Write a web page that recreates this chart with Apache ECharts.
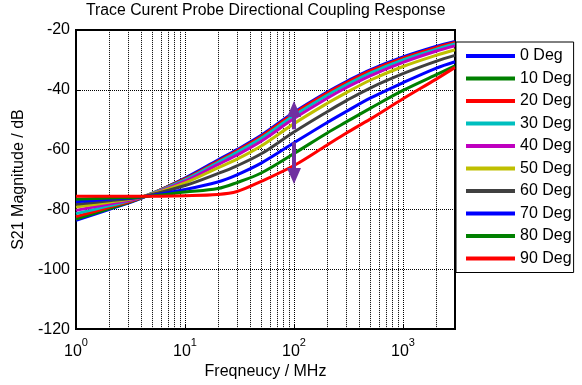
<!DOCTYPE html>
<html>
<head>
<meta charset="utf-8">
<script src="https://cdn.jsdelivr.net/npm/echarts@6/dist/echarts.min.js"></script>
<style>
html, body { margin: 0; padding: 0; background: #fff; }
#main { width: 582px; height: 385px; }
</style>
</head>
<body>
<div id="main"></div>
<script>
// frequency points (MHz)
var freqs = [1, 2, 4, 10, 20, 30, 50, 100, 200, 300, 500, 1000, 2000, 3000];

var names = ['0 Deg', '10 Deg', '20 Deg', '30 Deg', '40 Deg', '50 Deg', '60 Deg', '70 Deg', '80 Deg', '90 Deg'];
var colors = ['#0000ff', '#008000', '#ff0000', '#00bfbf', '#bf00bf', '#bfbf00', '#404040', '#0000ff', '#008000', '#ff0000'];

// S21 (dB) per angle
var deg0  = [-83.6, -80.0, -76.2, -69.5, -63.5, -60.0, -55.2, -47.5, -40.8, -37.3, -33.3, -29.0, -25.5, -23.8];
var deg10 = [-83.2, -79.8, -76.1, -69.8, -64.0, -60.5, -55.7, -48.0, -41.3, -37.8, -33.8, -29.5, -26.0, -24.3];
var deg20 = [-82.4, -79.3, -76.0, -69.8, -63.9, -60.4, -55.6, -47.9, -41.2, -37.7, -33.7, -29.4, -25.9, -24.2];
var deg30 = [-81.4, -78.8, -75.9, -70.1, -64.3, -60.9, -56.2, -48.6, -41.9, -38.4, -34.4, -30.0, -26.5, -24.7];
var deg40 = [-80.3, -78.2, -75.9, -70.5, -65.0, -61.8, -57.2, -49.6, -42.9, -39.3, -35.3, -30.8, -27.1, -25.3];
var deg50 = [-79.2, -77.6, -75.8, -71.1, -66.1, -63.2, -58.8, -51.3, -44.6, -41.0, -36.8, -32.2, -28.5, -26.6];
var deg60 = [-78.3, -77.1, -75.8, -72.0, -68.0, -65.4, -61.4, -54.1, -47.4, -43.7, -39.4, -34.6, -30.5, -28.5];
var deg70 = [-77.4, -76.6, -75.8, -73.3, -70.8, -68.4, -64.5, -57.7, -51.0, -47.3, -42.8, -37.6, -32.8, -30.6];
var deg80 = [-76.6, -76.2, -75.8, -74.2, -73.0, -71.0, -67.8, -61.3, -54.5, -50.8, -46.2, -40.2, -35.0, -32.0];
var deg90 = [-75.6, -75.6, -75.6, -75.4, -75.0, -74.0, -70.6, -65.3, -58.5, -54.5, -49.8, -43.0, -36.5, -32.5];
var allDeg = [deg0, deg10, deg20, deg30, deg40, deg50, deg60, deg70, deg80, deg90];

// minor vertical grid lines (log decades)
var minorX = [2, 3, 4, 5, 6, 7, 8, 9, 20, 30, 40, 50, 60, 70, 80, 90,
    200, 300, 400, 500, 600, 700, 800, 900, 2000];

// arrows at 100 MHz: [from, to]
var arrowUp = [-53.2, -46.4];
var arrowDown = [-57.5, -68.8];
var arrowFreq = 100;

var series = [];
for (var i = 0; i < names.length; i++) {
    var pts = [];
    for (var j = 0; j < freqs.length; j++) pts.push([freqs[j], allDeg[i][j]]);
    series.push({
        name: names[i],
        type: 'line',
        data: pts,
        showSymbol: false,
        smooth: 0.35,
        z: 3,
        lineStyle: { width: 3, color: colors[i] },
        itemStyle: { color: colors[i] }
    });
}

// helper: minor grid
series.push({
    type: 'line',
    data: [],
    silent: true,
    markLine: {
        z: 1,
        silent: true,
        symbol: ['none', 'none'],
        label: { show: false },
        lineStyle: { color: '#000', type: [1, 1], width: 1 },
        data: minorX.map(function (v) { return { xAxis: v }; })
    }
});

// helper: purple arrows
series.push({
    type: 'line',
    data: [],
    silent: true,
    markLine: {
        z: 10,
        silent: true,
        symbol: ['none', 'triangle'],
        symbolSize: [14, 16],
        label: { show: false },
        lineStyle: { color: '#7030a0', type: 'solid', width: 4 },
        itemStyle: { color: '#7030a0' },
        data: [
            [{ coord: [arrowFreq, arrowUp[0]] }, { coord: [arrowFreq, arrowUp[1]] }],
            [{ coord: [arrowFreq, arrowDown[0]] }, { coord: [arrowFreq, arrowDown[1]] }]
        ]
    }
});

var fam = 'Liberation Sans, Arial, sans-serif';
var chart = echarts.init(document.getElementById('main'));
chart.setOption({
    backgroundColor: '#fff',
    animation: false,
    color: colors,
    title: {
        text: 'Trace Curent Probe Directional Coupling Response',
        left: 86,
        top: 3,
        padding: 0,
        textStyle: { fontFamily: fam, fontSize: 15.8, fontWeight: 'normal', color: '#000' }
    },
    legend: {
        data: names,
        orient: 'vertical',
        left: 456,
        top: 42,
        padding: [6, 2, 6, 10],
        itemWidth: 49,
        itemHeight: 4,
        itemGap: 6.5,
        backgroundColor: '#fff',
        borderColor: '#000',
        borderWidth: 1,
        icon: 'rect',
        textStyle: { fontFamily: fam, fontSize: 16, color: '#000' }
    },
    grid: {
        left: 76, top: 30, right: 127, bottom: 54,
        show: true, borderColor: '#000', borderWidth: 2, backgroundColor: '#fff'
    },
    xAxis: {
        type: 'log',
        logBase: 10,
        min: 1,
        max: 3000,
        name: 'Freqneucy / MHz',
        nameLocation: 'middle',
        nameGap: 32,
        nameTextStyle: { fontFamily: fam, fontSize: 16, color: '#000' },
        axisLine: { lineStyle: { color: '#000', width: 2 } },
        axisTick: { inside: true, length: 5, lineStyle: { color: '#000' } },
        splitLine: { show: true, lineStyle: { color: '#000', type: [1, 1], width: 1 } },
        axisLabel: {
            color: '#000',
            showMaxLabel: false,
            formatter: function (v) {
                var e = Math.log10(v);
                if (Math.abs(e - Math.round(e)) > 1e-6) return '';
                return '{b|10}{e|' + Math.round(e) + '}';
            },
            rich: {
                b: { fontFamily: fam, fontSize: 16, color: '#000', verticalAlign: 'bottom', lineHeight: 22 },
                e: { fontFamily: fam, fontSize: 11, color: '#000', verticalAlign: 'top', lineHeight: 11 }
            }
        }
    },
    yAxis: {
        type: 'value',
        min: -120,
        max: -20,
        interval: 20,
        name: 'S21 Magnitude / dB',
        nameLocation: 'middle',
        nameGap: 48,
        nameTextStyle: { fontFamily: fam, fontSize: 16, color: '#000' },
        axisLine: { show: true, lineStyle: { color: '#000', width: 2 } },
        axisTick: { show: true, inside: true, length: 5, lineStyle: { color: '#000' } },
        splitLine: { show: true, lineStyle: { color: '#000', type: [1, 1], width: 1 } },
        axisLabel: { fontFamily: fam, fontSize: 16, color: '#000', margin: 6 }
    },
    series: series
});
</script>
</body>
</html>
